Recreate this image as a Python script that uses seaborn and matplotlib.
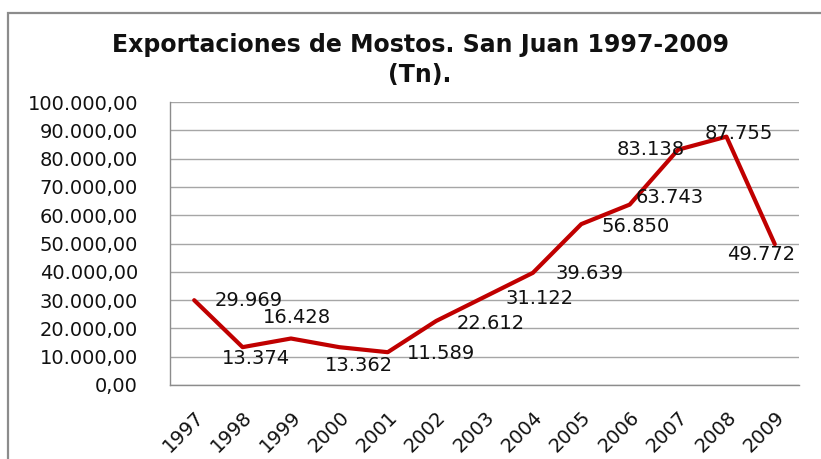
import pandas as pd
import numpy as np
import matplotlib
matplotlib.use('Agg')
import matplotlib.pyplot as plt
import seaborn as sns
from matplotlib.ticker import FuncFormatter, MultipleLocator
from matplotlib.patches import Rectangle

sns.set_style("white")
plt.rcParams['font.family'] = ['DejaVu Sans']

years = ['1997', '1998', '1999', '2000', '2001', '2002', '2003',
         '2004', '2005', '2006', '2007', '2008', '2009']
toneladas = [29969, 13374, 16428, 13362, 11589, 22612, 31122,
             39639, 56850, 63743, 83138, 87755, 49772]

# where each data label sits relative to its point (pixels)
label_offsets = [(54, 0), (13, -11), (6, 21), (20, -18), (53, -1), (55, -2), (55, -2),
                 (57, -1), (54, -2), (40, 7), (-27, 0), (12, 3), (-14, -10)]

df = pd.DataFrame({'Año': years, 'Tn': toneladas})


def es_num(v, dec=2):
    s = f'{v:,.{dec}f}'
    return s.replace(',', 'X').replace('.', ',').replace('X', '.')


fig = plt.figure(figsize=(8.21, 4.59), dpi=100)
fig.patches.append(Rectangle((8 / 821, -0.1), 1.2, 1 - 13 / 459 + 0.1, transform=fig.transFigure,
                             fill=False, edgecolor='#8c8c8c', linewidth=1.6))
ax = fig.add_axes([170 / 821, 1 - 385 / 459, 629 / 821, 283 / 459])

sns.lineplot(data=df, x='Año', y='Tn', ax=ax, color='#c00000', linewidth=3, sort=False)

for yr, v, off in zip(years, toneladas, label_offsets):
    ax.annotate(es_num(v, 0), (yr, v), xytext=off, textcoords='offset pixels',
                ha='center', va='center', fontsize=14, color='#111111')

ax.set_xlim(-0.5, len(years) - 0.5)
ax.set_ylim(0, 100000)
ax.yaxis.set_major_locator(MultipleLocator(10000))
ax.yaxis.set_major_formatter(FuncFormatter(lambda v, p: es_num(v)))
ax.grid(axis='y', color='#a6a6a6', linewidth=1)
ax.set_axisbelow(True)

for s in ['top', 'right']:
    ax.spines[s].set_visible(False)
for s in ['left', 'bottom']:
    ax.spines[s].set_color('#8c8c8c')
    ax.spines[s].set_linewidth(1)

ax.tick_params(axis='y', length=0, pad=23, labelsize=14, colors='#111111')
ax.tick_params(axis='x', length=0, pad=16, labelsize=14, colors='#111111')
plt.setp(ax.get_xticklabels(), rotation=45, ha='right', rotation_mode='anchor')
ax.set_xlabel('')
ax.set_ylabel('')

fig.text(420 / 821, 1 - 60 / 459, 'Exportaciones de Mostos. San Juan 1997-2009\n(Tn).',
         ha='center', va='center', fontsize=17, fontweight='bold', linespacing=1.3,
         color='#111111')

fig.savefig('out.png', dpi=100)
